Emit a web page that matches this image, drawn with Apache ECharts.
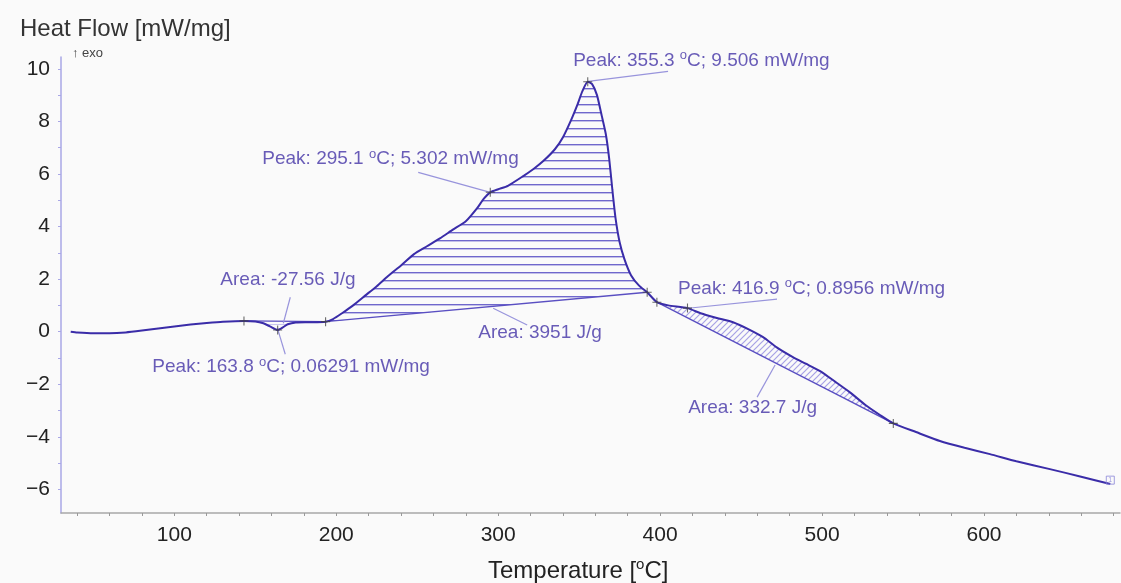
<!DOCTYPE html>
<html>
<head>
<meta charset="utf-8">
<script src="https://cdn.jsdelivr.net/npm/echarts@6/dist/echarts.min.js"></script>
<style>
html,body{margin:0;padding:0;background:#fafafa;}
#chart{width:1121px;height:583px;}
</style>
</head>
<body>
<div id="chart"></div>
<script>
// ---- data ----
const curveT = [36,40,50,60,70,80,90,100,110,120,130,143,150,155,159,163.8,167,170,175,183,193.4,198,204,210,218,225,232,240,248,256,264,272,280,287,291,295.1,300,306,315,322,328,335,340,345,349,352,355.3,358,361,364,366.5,368.5,370.5,372.5,375,378,382,387,392,398,405,416.9,425,435,445,455,463.6,472,482,490,498.8,508,517,527,536,544,558,572.8,588,603.7,620,640.7,660,678];
const curveV = [0.00,-0.03,-0.06,-0.06,-0.03,0.04,0.12,0.20,0.27,0.33,0.38,0.41,0.39,0.32,0.20,0.06,0.16,0.28,0.35,0.36,0.38,0.48,0.72,0.98,1.38,1.73,2.12,2.52,2.95,3.25,3.55,3.88,4.20,4.70,5.05,5.302,5.42,5.55,5.90,6.20,6.50,6.94,7.40,8.05,8.65,9.15,9.506,9.42,9.00,8.20,7.50,6.60,5.40,4.30,3.40,2.75,2.15,1.75,1.50,1.12,1.00,0.8956,0.70,0.52,0.36,0.08,-0.21,-0.60,-0.97,-1.22,-1.50,-1.90,-2.30,-2.80,-3.18,-3.49,-3.82,-4.16,-4.42,-4.66,-4.93,-5.23,-5.52,-5.80];

const markerT = [143, 163.8, 193.4, 295.1, 355.3, 392, 398, 416.9, 544];
const regionStartT = [143, 193.4, 398];
const regionEndT = [193.4, 392, 544];

const xTickLabels = [100, 200, 300, 400, 500, 600];
const xMinorTicks = [40,60,80,100,120,140,160,180,200,220,240,260,280,300,320,340,360,380,400,420,440,460,480,500,520,540,560,580,600,620,640,660,680];
const yTickLabels = [-6, -4, -2, 0, 2, 4, 6, 8, 10];
const yMinorTicks = [-6,-5,-4,-3,-2,-1,0,1,2,3,4,5,6,7,8,9,10];

const annoText = [
  'Peak: 355.3 ºC; 9.506 mW/mg',
  'Peak: 295.1 ºC; 5.302 mW/mg',
  'Area: -27.56 J/g',
  'Peak: 163.8 ºC; 0.06291 mW/mg',
  'Area: 3951 J/g',
  'Peak: 416.9 ºC; 0.8956 mW/mg',
  'Area: 332.7 J/g'
];
const annoT = [346.3, 154.3, 128.4, 86.4, 287.7, 411.1, 417.3];
const annoV = [10.32, 6.56, 1.96, -1.35, -0.06, 1.65, -2.91];

const leaderFrom = [[355.6, 9.52], [295.1, 5.30], [171.6, 1.31], [164.2, 0.02], [296.9, 0.89], [417.3, 0.89], [471.0, -1.27]];
const leaderTo   = [[404.9, 9.90], [250.6, 6.06], [167.3, 0.32], [168.5, -0.86], [317.9, 0.25], [472.2, 1.24], [459.9, -2.49]];

// ---- helpers ----
function valAt(t){ const i = curveT.indexOf(t); return curveV[i]; }
function makePattern(kind){
  const c = document.createElement('canvas');
  const ctx = c.getContext('2d');
  if (kind === 'h') {
    c.width = 4; c.height = 8;
    ctx.fillStyle = '#6f67cc';
    ctx.fillRect(0, 0, 4, 1.4);
  } else if (kind === 'hl') {
    c.width = 4; c.height = 4;
    ctx.fillStyle = '#c9c6ef';
    ctx.fillRect(0, 0, 4, 1);
  } else {
    c.width = 6; c.height = 6;
    ctx.strokeStyle = '#a7a2e6';
    ctx.lineWidth = 1.2;
    ctx.beginPath();
    ctx.moveTo(-1, 7); ctx.lineTo(7, -1);
    ctx.moveTo(-4, 4); ctx.lineTo(4, -4);
    ctx.moveTo(2, 10); ctx.lineTo(10, 2);
    ctx.stroke();
  }
  return {image: c, repeat: 'repeat'};
}
const patterns = [makePattern('hl'), makePattern('h'), makePattern('d')];

const FONT = 'Liberation Sans, Arial, Helvetica, sans-serif';
const TXT = '#4433a6';

const chart = echarts.init(document.getElementById('chart'));
chart.setOption({
  backgroundColor: '#fafafa',
  animation: false,
  title: {
    text: 'Heat Flow [mW/mg]',
    left: 15, top: 12,
    textStyle: {fontFamily: FONT, fontSize: 24, fontWeight: 'normal', color: '#333'}
  },
  graphic: [
    {type: 'text', left: 72, top: 47, style: {text: '↑ exo', font: '13px ' + FONT, fill: '#444'}},
    {type: 'text', left: 488, top: 557, style: {
      text: 'Temperature [{s|o}C]', font: '24px ' + FONT, fill: '#222',
      rich: {s: {fontSize: 15, fontFamily: FONT, verticalAlign: 'top', lineHeight: 28, fill: '#222'}}
    }}
  ],
  grid: {left: 61, right: 1, top: 57, bottom: 70, containLabel: false},
  xAxis: {
    type: 'value', min: 30, max: 684,
    axisLine: {show: true, onZero: false, lineStyle: {color: '#a8a8a8', width: 1.5}},
    axisTick: {show: true, length: 3, lineStyle: {color: '#999'}, customValues: xMinorTicks},
    axisLabel: {customValues: xTickLabels, fontFamily: FONT, fontSize: 21, color: '#222', margin: 12},
    splitLine: {show: false}
  },
  yAxis: {
    type: 'value', min: -6.9, max: 10.45,
    axisLine: {show: true, onZero: false, lineStyle: {color: '#a9a7e6', width: 1.5}},
    axisTick: {show: true, length: 3, lineStyle: {color: '#a9a7e6'}, customValues: yMinorTicks},
    axisLabel: {customValues: yTickLabels, fontFamily: FONT, fontSize: 21, color: '#222', margin: 11,
      formatter: v => (v < 0 ? '\u2212' + Math.abs(v) : String(v))},
    splitLine: {show: false}
  },
  series: [
    {
      type: 'custom',
      name: 'regions',
      z: 1,
      data: regionStartT.map((s, i) => [s, regionEndT[i], 0]),
      encode: {x: [0, 1], y: 2},
      renderItem: function (params, api) {
        const i = params.dataIndex;
        const s = regionStartT[i], e = regionEndT[i];
        const pts = [];
        for (let k = 0; k < curveT.length; k++) {
          if (curveT[k] >= s && curveT[k] <= e) pts.push(api.coord([curveT[k], curveV[k]]));
        }
        return {type: 'polygon', shape: {points: pts}, style: {fill: patterns[i], stroke: null}};
      }
    },
    {
      type: 'lines',
      name: 'baselines',
      coordinateSystem: 'cartesian2d',
      z: 2,
      lineStyle: {color: '#5a4fc2', width: 1.4, opacity: 1},
      data: regionStartT.map((s, i) => ({coords: [[s, valAt(s)], [regionEndT[i], valAt(regionEndT[i])]]}))
    },
    {
      type: 'lines',
      name: 'leaders',
      coordinateSystem: 'cartesian2d',
      z: 2,
      lineStyle: {color: '#9894dc', width: 1.2, opacity: 1},
      data: leaderFrom.map((f, i) => ({coords: [f, leaderTo[i]]}))
    },
    {
      type: 'line',
      name: 'DSC',
      z: 3,
      data: curveT.map((t, i) => [t, curveV[i]]),
      showSymbol: false,
      smooth: 0.2,
      lineStyle: {color: '#3a2ca8', width: 2}
    },
    {
      type: 'scatter',
      name: 'markers',
      z: 4,
      symbol: 'path://M4.4,0h1.2v10h-1.2zM0,4.4h10v1.2h-10z',
      symbolSize: 9,
      itemStyle: {color: '#444'},
      data: markerT.map(t => [t, valAt(t)])
    },
    {
      type: 'scatter',
      name: 'annotations',
      z: 5,
      symbolSize: 0,
      silent: true,
      data: annoT.map((t, i) => ({value: [t, annoV[i]], name: annoText[i]})),
      label: {
        show: true, position: 'right', distance: 0,
        fontFamily: FONT, fontSize: 19, color: TXT, lineHeight: 22,
        formatter: p => p.name.replace('º', '{s|o}'),
        rich: {s: {fontSize: 13, fontFamily: FONT, color: TXT, verticalAlign: 'top', lineHeight: 22}}
      }
    },
    {
      type: 'scatter',
      name: 'end',
      z: 5,
      symbol: 'rect',
      symbolSize: 8,
      itemStyle: {color: 'rgba(0,0,0,0)', borderColor: '#8a84d8', borderWidth: 1},
      data: [[curveT[curveT.length - 1], curveV[curveV.length - 1] + 0.15]],
      label: {show: true, position: 'inside', formatter: '1', fontSize: 7, color: '#8a84d8'}
    }
  ]
});
</script>
</body>
</html>
